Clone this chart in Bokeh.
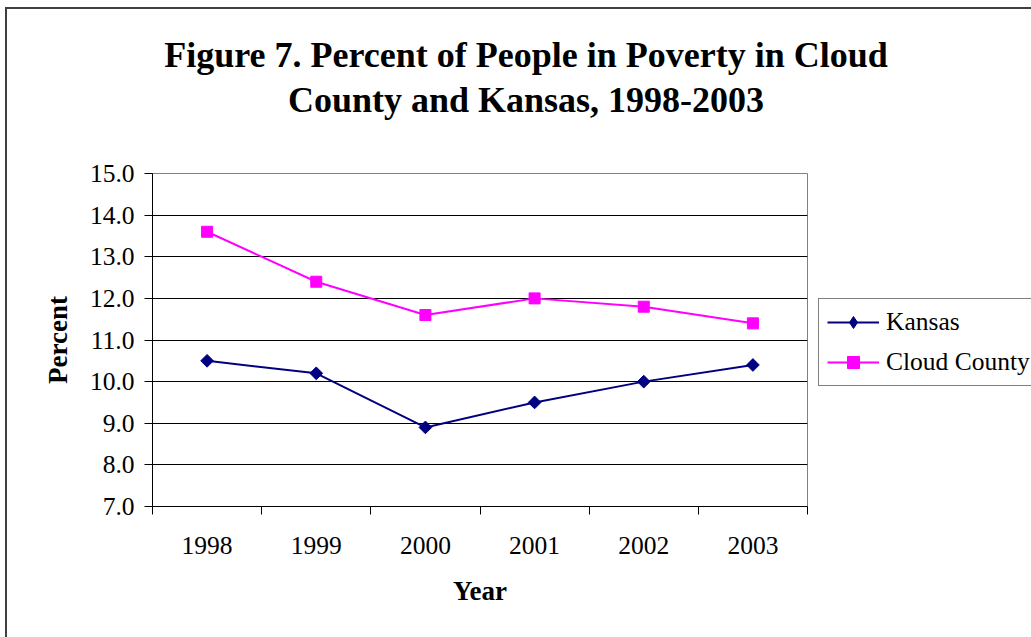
import numpy as np
from bokeh.plotting import figure
from bokeh.layouts import column, row
from bokeh.models import (FixedTicker, Legend, LegendItem, Range1d, Label,
                          NumeralTickFormatter)
from bokeh.embed import file_html
from bokeh.resources import INLINE

# ---- data ----
years = ["1998", "1999", "2000", "2001", "2002", "2003"]
kansas = [10.5, 10.2, 8.9, 9.5, 10.0, 10.4]
cloud = [13.6, 12.4, 11.6, 12.0, 11.8, 11.4]
y_ticks = [7, 8, 9, 10, 11, 12, 13, 14, 15]
title_lines = ["Figure 7. Percent of People in Poverty in Cloud",
               "County and Kansas, 1998-2003"]
series_names = ["Kansas", "Cloud County"]

SERIF = "Liberation Serif"
NAVY = "#000080"
MAGENTA = "#FF00FF"

xs = [i + 0.5 for i in range(len(years))]


def blank(width, height):
    f = figure(width=width, height=height, output_backend="svg",
               toolbar_location=None, x_axis_type=None, y_axis_type=None,
               min_border=0, title=None)
    f.outline_line_color = None
    f.background_fill_color = "white"
    f.border_fill_color = "white"
    return f


def add_series(fig, visible=True, legend_only=False):
    r1 = fig.line(xs, kansas, line_color=NAVY, line_width=2, visible=visible)
    if legend_only:
        # legends draw markers unrotated, so use the diamond marker there
        r2 = fig.scatter(xs, kansas, marker="diamond", size=12,
                         fill_color=NAVY, line_color=NAVY, visible=visible)
    else:
        r2 = fig.scatter(xs, kansas, marker="square", angle=np.pi / 4, size=9,
                         fill_color=NAVY, line_color=NAVY, visible=visible)
    r3 = fig.line(xs, cloud, line_color=MAGENTA, line_width=2, visible=visible)
    r4 = fig.scatter(xs, cloud, marker="square", size=11,
                     fill_color=MAGENTA, line_color=MAGENTA, visible=visible)
    return [r1, r2], [r3, r4]


# ---------- title strip ----------
pt = blank(1024, 134)
for txt, yy in zip(title_lines, [89, 44]):
    pt.add_layout(Label(x=518.5, y=yy, x_units="screen", y_units="screen",
                        text=txt, text_align="center", text_baseline="alphabetic",
                        text_font=SERIF, text_font_style="bold",
                        text_font_size="36px", text_color="black"))

# ---------- main chart ----------
p = figure(width=805, height=494, output_backend="svg", toolbar_location=None,
           x_range=Range1d(0, len(years)), y_range=Range1d(y_ticks[0], y_ticks[-1]),
           min_border_left=145, min_border_right=5, min_border_top=30,
           min_border_bottom=131, title=None)
p.background_fill_color = "white"
p.border_fill_color = "white"
p.outline_line_color = "#808080"
p.outline_line_width = 1

# x axis: labels at category centres, tick marks between categories
p.xaxis.ticker = FixedTicker(ticks=xs, minor_ticks=list(range(len(years) + 1)))
p.xaxis.major_label_overrides = {x: y for x, y in zip(xs, years)}
p.xaxis.major_tick_out = 0
p.xaxis.major_tick_in = 0
p.xaxis.minor_tick_out = 8
p.xaxis.minor_tick_in = 0
p.xaxis.minor_tick_line_color = "black"
p.xaxis.axis_line_color = "black"
p.xaxis.major_label_standoff = 22
p.xaxis.major_label_text_font = SERIF
p.xaxis.major_label_text_font_size = "25.5px"
p.xaxis.major_label_text_color = "black"
p.xaxis.axis_label = "Year"
p.xaxis.axis_label_text_font = SERIF
p.xaxis.axis_label_text_font_style = "bold"
p.xaxis.axis_label_text_font_size = "27px"
p.xaxis.axis_label_text_color = "black"
p.xaxis.axis_label_standoff = 19

# y axis
p.yaxis.ticker = FixedTicker(ticks=y_ticks)
p.yaxis.formatter = NumeralTickFormatter(format="0.0")
p.yaxis.major_tick_out = 8
p.yaxis.major_tick_in = 0
p.yaxis.minor_tick_line_color = None
p.yaxis.major_tick_line_color = "black"
p.yaxis.axis_line_color = "black"
p.yaxis.major_label_standoff = 10
p.yaxis.major_label_text_font = SERIF
p.yaxis.major_label_text_font_size = "25.5px"
p.yaxis.major_label_text_color = "black"
p.yaxis.axis_label = "Percent"
p.yaxis.axis_label_text_font = SERIF
p.yaxis.axis_label_text_font_style = "bold"
p.yaxis.axis_label_text_font_size = "27px"
p.yaxis.axis_label_text_color = "black"
p.yaxis.axis_label_standoff = 14

p.xgrid.visible = False
p.ygrid.ticker = FixedTicker(ticks=y_ticks[1:-1])
p.ygrid.grid_line_color = "black"
p.ygrid.grid_line_width = 1

add_series(p)

# ---------- legend strip (legend box runs past the right edge, as in the original) ----------
pl = blank(219, 494)
k_r, c_r = add_series(pl, visible=False, legend_only=True)  # hidden, legend glyphs only
legend = Legend(items=[LegendItem(label=series_names[0], renderers=k_r),
                       LegendItem(label=series_names[1], renderers=c_r)],
                location=(6, 120))
legend.click_policy = "none"
legend.inactive_fill_alpha = 0.0
legend.label_text_font = SERIF
legend.label_text_font_size = "25.5px"
legend.label_text_color = "black"
legend.glyph_width = 52
legend.glyph_height = 30
legend.label_standoff = 7
legend.padding = 8
legend.spacing = 10
legend.margin = 0
legend.border_line_color = "black"
legend.border_line_width = 1
legend.background_fill_color = "white"
legend.background_fill_alpha = 1.0
pl.add_layout(legend)

layout = column(pt, row(p, pl, spacing=0), spacing=0)
layout.margin = (9, 0, 0, 7)
layout.styles = {"outline": "2px solid #404040"}

open("out.html", "w").write(file_html(layout, INLINE))
